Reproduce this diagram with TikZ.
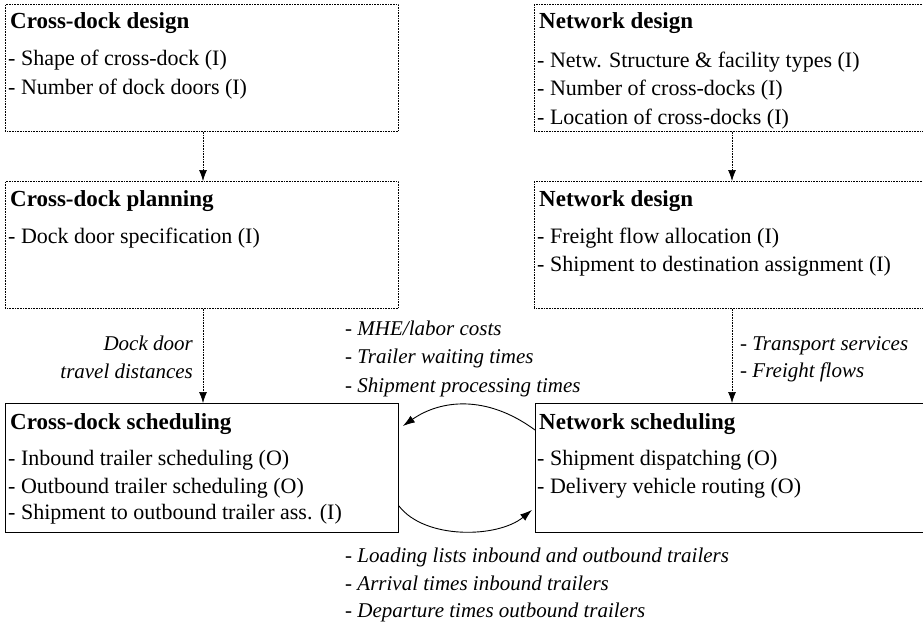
\documentclass[tikz,border=0pt]{standalone}
\usepackage{fontspec}
\setmainfont{Liberation Serif}
\usetikzlibrary{arrows.meta,calc}
\begin{document}
\begin{tikzpicture}[x=1pt,y=-1pt,
  dbox/.style={draw, dash pattern=on 0.8pt off 0.8pt, line width=0.7pt, anchor=north west, inner sep=0, minimum height=127},
  sbox/.style={draw, line width=0.9pt, anchor=north west, inner sep=0, minimum height=129},
  ttl/.style={anchor=base west, inner sep=0, font=\fontsize{23}{27}\selectfont\bfseries},
  itm/.style={anchor=base west, inner sep=0, font=\fontsize{22}{26}\selectfont},
  lbl/.style={inner sep=0, font=\fontsize{21}{25}\selectfont\itshape},
  darr/.style={dash pattern=on 0.8pt off 0.8pt, line width=0.7pt, -{Latex[length=11pt,width=8pt]}},
  carr/.style={line width=0.9pt, -{Latex[length=12pt,width=8pt]}}]
\clip (0,0) rectangle (923,626);
\fill[white] (0,0) rectangle (923,626);
% boxes
\node[dbox, minimum width=393] (cdd) at (5,4) {};
\node[dbox, minimum width=400] (nd1) at (534,4) {};
\node[dbox, minimum width=393] (cdp) at (5,181) {};
\node[dbox, minimum width=400] (nd2) at (534,181) {};
\node[sbox, minimum width=393] (cds) at (5,403) {};
\node[sbox, minimum width=400] (nsc) at (535,403) {};
% texts
\node[ttl] (t1) at ($(cdd.north west)+(5,25)$) {Cross-dock design};
\node[itm] (t1a) at ($(cdd.north west)+(3,62)$) {- Shape of cross-dock (I)};
\node[itm] (t1b) at ($(cdd.north west)+(3,90.5)$) {- Number of dock doors (I)};
\node[ttl] (t2) at ($(nd1.north west)+(5,25)$) {Network design};
\node[itm] (t2a) at ($(nd1.north west)+(3,63)$) {- Netw. Structure \& facility types (I)};
\node[itm] (t2b) at ($(nd1.north west)+(3,91.5)$) {- Number of cross-docks (I)};
\node[itm] (t2c) at ($(nd1.north west)+(3,120)$) {- Location of cross-docks (I)};
\node[ttl] (t3) at ($(cdp.north west)+(5,25)$) {Cross-dock planning};
\node[itm] (t3a) at ($(cdp.north west)+(3,62)$) {- Dock door specification (I)};
\node[ttl] (t4) at ($(nd2.north west)+(5,25)$) {Network design};
\node[itm] (t4a) at ($(nd2.north west)+(3,62)$) {- Freight flow allocation (I)};
\node[itm] (t4b) at ($(nd2.north west)+(3,90)$) {- Shipment to destination assignment (I)};
\node[ttl] (t5) at ($(cds.north west)+(5,26)$) {Cross-dock scheduling};
\node[itm] (t5a) at ($(cds.north west)+(3,62)$) {- Inbound trailer scheduling (O)};
\node[itm] (t5b) at ($(cds.north west)+(3,90)$) {- Outbound trailer scheduling (O)};
\node[itm] (t5c) at ($(cds.north west)+(3,116)$) {- Shipment to outbound trailer ass. (I)};
\node[ttl] (t6) at ($(nsc.north west)+(4,26)$) {Network scheduling};
\node[itm] (t6a) at ($(nsc.north west)+(2,62)$) {- Shipment dispatching (O)};
\node[itm] (t6b) at ($(nsc.north west)+(2,90)$) {- Delivery vehicle routing (O)};
% vertical arrows
\draw[darr] ($(cdd.south west)+(198,0)$) -- ($(cdp.north west)+(198,0)$);
\draw[darr] ($(nd1.south west)+(198,0)$) -- ($(nd2.north west)+(198,0)$);
\draw[darr] ($(cdp.south west)+(198,0)$) -- ($(cds.north west)+(198,0)$);
\draw[darr] ($(nd2.south west)+(198,0)$) -- ($(nsc.north west)+(197,0)$);
% curved arrows
\coordinate (c1s) at ($(nsc.north west)+(0,27)$);
\coordinate (c1e) at ($(cds.north east)+(4,23)$);
\draw[carr] (c1s) .. controls (486,394) and (440,400) .. (c1e);
\coordinate (c2s) at ($(cds.south east)+(0,-27)$);
\coordinate (c2e) at ($(nsc.south west)+(-3,-23)$);
\draw[carr] (c2s) .. controls (425,540) and (498,538) .. (c2e);
% labels
\node[lbl, anchor=base east] (l1) at (193,350) {Dock door};
\node[lbl, anchor=base east] (l2) at (193,378) {travel distances};
\node[lbl, anchor=base west] (m1) at (345,335) {- MHE/labor costs};
\node[lbl, anchor=base west] (m2) at (345,363) {- Trailer waiting times};
\node[lbl, anchor=base west] (m3) at (345,392) {- Shipment processing times};
\node[lbl, anchor=base west] (r1) at (740,350) {- Transport services};
\node[lbl, anchor=base west] (r2) at (740,377) {- Freight flows};
\node[lbl, anchor=base west] (b1) at (345,562) {- Loading lists inbound and outbound trailers};
\node[lbl, anchor=base west] (b2) at (345,590) {- Arrival times inbound trailers};
\node[lbl, anchor=base west] (b3) at (345,617) {- Departure times outbound trailers};
\end{tikzpicture}
\end{document}
